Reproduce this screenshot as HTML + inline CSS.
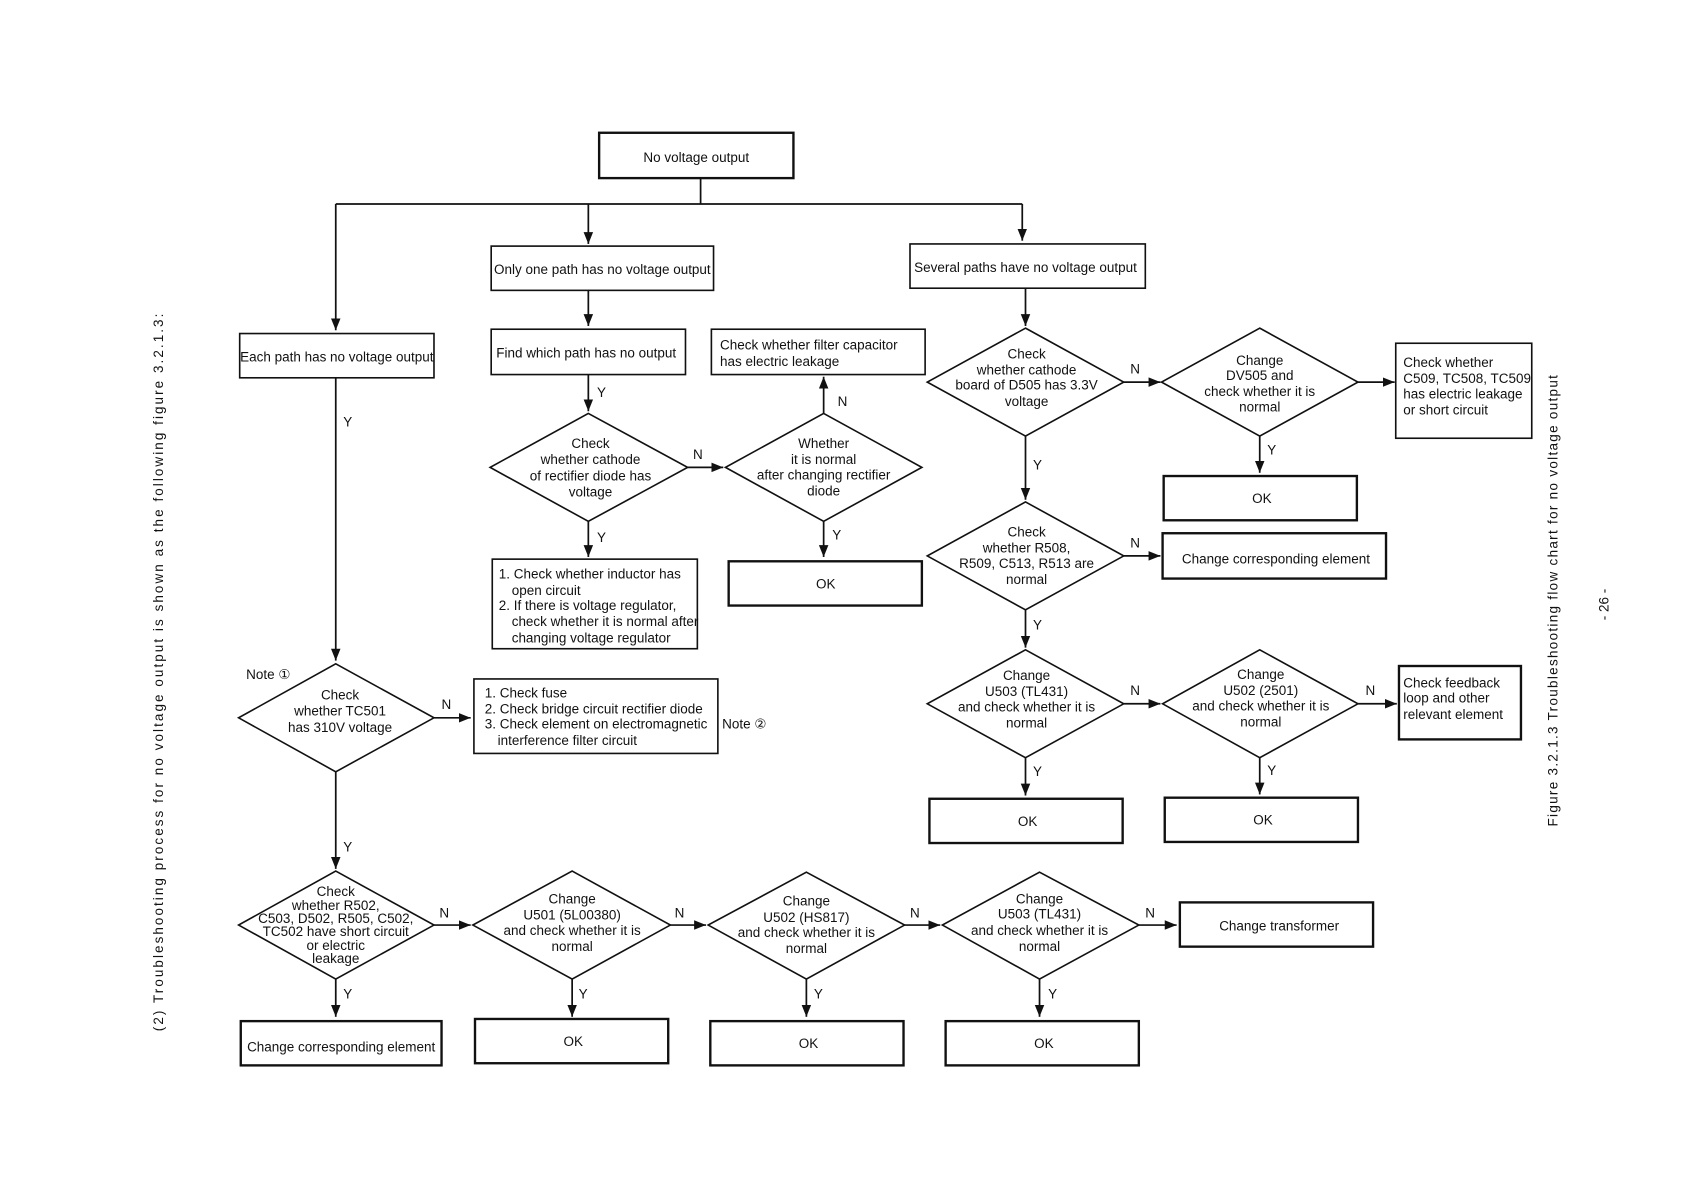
<!DOCTYPE html>
<html><head><meta charset="utf-8"><style>
html,body{margin:0;padding:0;background:#fff;}
svg{display:block}
text{font-family:"Liberation Sans Narrow","Liberation Sans",sans-serif;fill:#111;font-size:12.5px;}
.w{font-family:"Liberation Sans",sans-serif;}
.b{fill:#fff;stroke:#111;stroke-width:1.5}
.bb{fill:#fff;stroke:#111;stroke-width:2.2}
.l{stroke:#111;stroke-width:1.6;fill:none}
</style></head><body>
<svg width="1684" height="1192" viewBox="0 0 1560 1104.3" xmlns="http://www.w3.org/2000/svg">
<defs><marker id="A" viewBox="0 0 10 10" refX="10" refY="5" markerWidth="11" markerHeight="11" orient="auto" markerUnits="userSpaceOnUse"><path d="M0,1L10,5L0,9z" fill="#111"/></marker></defs>

<rect class="bb" x="555" y="123" width="180" height="42"/>
<text x="645" y="150" text-anchor="middle" class="w">No voltage output</text>
<path class="l" d="M649,165V189M311,189H947"/>
<path class="l" d="M311,189V306" marker-end="url(#A)"/>
<path class="l" d="M545,189V226" marker-end="url(#A)"/>
<path class="l" d="M947,189V223" marker-end="url(#A)"/>

<rect class="b" x="222" y="309" width="180" height="41"/>
<text x="312" y="335" text-anchor="middle">Each path has no voltage output</text>
<rect class="b" x="455" y="228" width="206" height="41"/>
<text x="558" y="254" text-anchor="middle">Only one path has no voltage output</text>
<rect class="b" x="843" y="226" width="218" height="41"/>
<text x="950" y="252" text-anchor="middle">Several paths have no voltage output</text>

<path class="l" d="M545,269V302" marker-end="url(#A)"/>
<rect class="b" x="455" y="305" width="180" height="42"/>
<text x="543" y="331" text-anchor="middle">Find which path has no output</text>
<path class="l" d="M545,347V381" marker-end="url(#A)"/>
<text x="553" y="368">Y</text>
<polygon class="b" points="545,383 637,433 545,483 454,433"/>
<text text-anchor="middle" class="w"><tspan x="547" y="415">Check</tspan><tspan x="547" y="430">whether cathode</tspan><tspan x="547" y="445">of rectifier diode has</tspan><tspan x="547" y="460">voltage</tspan></text>
<path class="l" d="M637,433H670" marker-end="url(#A)"/>
<text x="642" y="425" class="w">N</text>
<polygon class="b" points="763,383 854,433 763,483 672,433"/>
<text text-anchor="middle" class="w"><tspan x="763" y="415">Whether</tspan><tspan x="763" y="430">it is normal</tspan><tspan x="763" y="444">after changing rectifier</tspan><tspan x="763" y="459">diode</tspan></text>
<path class="l" d="M763,383V349" marker-end="url(#A)"/>
<text x="776" y="376" class="w">N</text>
<rect class="b" x="659" y="305" width="198" height="42"/>
<text class="w"><tspan x="667" y="324">Check whether filter capacitor</tspan><tspan x="667" y="339">has electric leakage</tspan></text>
<path class="l" d="M545,483V516" marker-end="url(#A)"/>
<text x="553" y="502">Y</text>
<rect class="b" x="456" y="518" width="190" height="83"/>
<text><tspan x="462" y="536">1. Check whether inductor has</tspan><tspan x="474" y="551">open circuit</tspan><tspan x="462" y="565">2. If there is voltage regulator,</tspan><tspan x="474" y="580">check whether it is normal after</tspan><tspan x="474" y="595">changing voltage regulator</tspan></text>
<path class="l" d="M763,483V516" marker-end="url(#A)"/>
<text x="771" y="500">Y</text>
<rect class="bb" x="675" y="520" width="179" height="41"/>
<text x="765" y="545" text-anchor="middle" class="w">OK</text>

<path class="l" d="M311,350V612" marker-end="url(#A)"/>
<text x="318" y="395">Y</text>
<text x="228" y="629" class="w">Note ①</text>
<polygon class="b" points="311,615 402,665 311,715 221,665"/>
<text text-anchor="middle" class="w" font-size="13.5"><tspan x="315" y="648">Check</tspan><tspan x="315" y="663">whether TC501</tspan><tspan x="315" y="678">has 310V voltage</tspan></text>
<path class="l" d="M402,665H436" marker-end="url(#A)"/>
<text x="409" y="657" class="w">N</text>
<rect class="b" x="439" y="629" width="226" height="69"/>
<text font-size="12"><tspan x="449" y="646">1. Check fuse</tspan><tspan x="449" y="661">2. Check bridge circuit rectifier diode</tspan><tspan x="449" y="675">3. Check element on electromagnetic</tspan><tspan x="461" y="690">interference filter circuit</tspan></text>
<text x="669" y="675" class="w">Note ②</text>
<path class="l" d="M311,715V805" marker-end="url(#A)"/>
<text x="318" y="789">Y</text>

<polygon class="b" points="311,807 402,857 311,907 221,857"/>
<text text-anchor="middle" class="w" font-size="11"><tspan x="311" y="830">Check</tspan><tspan x="311" y="843">whether R502,</tspan><tspan x="311" y="855">C503, D502, R505, C502,</tspan><tspan x="311" y="867">TC502 have short circuit</tspan><tspan x="311" y="880">or electric</tspan><tspan x="311" y="892">leakage</tspan></text>
<path class="l" d="M402,857H436" marker-end="url(#A)"/>
<text x="407" y="850" class="w">N</text>
<polygon class="b" points="530,807 621,857 530,907 438,857"/>
<text text-anchor="middle" class="w"><tspan x="530" y="837">Change</tspan><tspan x="530" y="852">U501 (5L00380)</tspan><tspan x="530" y="866">and check whether it is</tspan><tspan x="530" y="881">normal</tspan></text>
<path class="l" d="M621,857H654" marker-end="url(#A)"/>
<text x="625" y="850" class="w">N</text>
<polygon class="b" points="747,808 838,857 747,907 656,857"/>
<text text-anchor="middle" class="w"><tspan x="747" y="839">Change</tspan><tspan x="747" y="854">U502 (HS817)</tspan><tspan x="747" y="868">and check whether it is</tspan><tspan x="747" y="883">normal</tspan></text>
<path class="l" d="M838,857H871" marker-end="url(#A)"/>
<text x="843" y="850" class="w">N</text>
<polygon class="b" points="963,808 1055,857 963,907 873,857"/>
<text text-anchor="middle" class="w"><tspan x="963" y="837">Change</tspan><tspan x="963" y="851">U503 (TL431)</tspan><tspan x="963" y="866">and check whether it is</tspan><tspan x="963" y="881">normal</tspan></text>
<path class="l" d="M1055,857H1090" marker-end="url(#A)"/>
<text x="1061" y="850" class="w">N</text>
<rect class="bb" x="1093" y="836" width="179" height="41"/>
<text x="1185" y="862" text-anchor="middle" class="w">Change transformer</text>

<path class="l" d="M311,907V942" marker-end="url(#A)"/><text x="318" y="925">Y</text>
<path class="l" d="M530,907V942" marker-end="url(#A)"/><text x="536" y="925">Y</text>
<path class="l" d="M747,907V942" marker-end="url(#A)"/><text x="754" y="925">Y</text>
<path class="l" d="M963,907V942" marker-end="url(#A)"/><text x="971" y="925">Y</text>
<rect class="bb" x="223" y="946" width="186" height="41"/>
<text x="316" y="974" text-anchor="middle">Change corresponding element</text>
<rect class="bb" x="440" y="944" width="179" height="41"/><text x="531" y="969" text-anchor="middle" class="w">OK</text>
<rect class="bb" x="658" y="946" width="179" height="41"/><text x="749" y="971" text-anchor="middle" class="w">OK</text>
<rect class="bb" x="876" y="946" width="179" height="41"/><text x="967" y="971" text-anchor="middle" class="w">OK</text>

<path class="l" d="M950,267V302" marker-end="url(#A)"/>
<polygon class="b" points="950,304 1041,354 950,404 859,354"/>
<text text-anchor="middle" class="w"><tspan x="951" y="332">Check</tspan><tspan x="951" y="347">whether cathode</tspan><tspan x="951" y="361">board of D505 has 3.3V</tspan><tspan x="951" y="376">voltage</tspan></text>
<path class="l" d="M1041,354H1075" marker-end="url(#A)"/>
<text x="1047" y="346" class="w">N</text>
<polygon class="b" points="1167,304 1258,354 1167,404 1076,354"/>
<text text-anchor="middle" class="w"><tspan x="1167" y="338">Change</tspan><tspan x="1167" y="352">DV505 and</tspan><tspan x="1167" y="367">check whether it is</tspan><tspan x="1167" y="381">normal</tspan></text>
<path class="l" d="M1258,354H1292" marker-end="url(#A)"/>
<rect class="b" x="1293" y="318" width="126" height="88"/>
<text><tspan x="1300" y="340">Check whether</tspan><tspan x="1300" y="355">C509, TC508, TC509</tspan><tspan x="1300" y="369">has electric leakage</tspan><tspan x="1300" y="384">or short circuit</tspan></text>
<path class="l" d="M1167,404V438" marker-end="url(#A)"/><text x="1174" y="421">Y</text>
<rect class="bb" x="1078" y="441" width="179" height="41"/><text x="1169" y="466" text-anchor="middle" class="w">OK</text>

<path class="l" d="M950,404V463" marker-end="url(#A)"/><text x="957" y="435">Y</text>
<polygon class="b" points="950,465 1041,515 950,565 859,515"/>
<text text-anchor="middle" class="w"><tspan x="951" y="497">Check</tspan><tspan x="951" y="512">whether  R508,</tspan><tspan x="951" y="526">R509, C513, R513 are</tspan><tspan x="951" y="541">normal</tspan></text>
<path class="l" d="M1041,515H1075" marker-end="url(#A)"/>
<text x="1047" y="507" class="w">N</text>
<rect class="bb" x="1077" y="494" width="207" height="42"/>
<text x="1182" y="522" text-anchor="middle" class="w">Change corresponding element</text>

<path class="l" d="M950,565V600" marker-end="url(#A)"/><text x="957" y="583">Y</text>
<polygon class="b" points="950,602 1041,652 950,702 859,652"/>
<text text-anchor="middle" class="w"><tspan x="951" y="630">Change</tspan><tspan x="951" y="645">U503 (TL431)</tspan><tspan x="951" y="659">and check whether it is</tspan><tspan x="951" y="674">normal</tspan></text>
<path class="l" d="M1041,652H1075" marker-end="url(#A)"/>
<text x="1047" y="644" class="w">N</text>
<polygon class="b" points="1167,602 1258,652 1167,702 1077,652"/>
<text text-anchor="middle" class="w"><tspan x="1168" y="629">Change</tspan><tspan x="1168" y="644">U502 (2501)</tspan><tspan x="1168" y="658">and check whether it is</tspan><tspan x="1168" y="673">normal</tspan></text>
<path class="l" d="M1258,652H1294" marker-end="url(#A)"/>
<text x="1265" y="644" class="w">N</text>
<rect class="bb" x="1296" y="617" width="113" height="68"/>
<text class="w"><tspan x="1300" y="637">Check feedback</tspan><tspan x="1300" y="651">loop and other</tspan><tspan x="1300" y="666">relevant element</tspan></text>
<path class="l" d="M950,702V737" marker-end="url(#A)"/><text x="957" y="719">Y</text>
<path class="l" d="M1167,702V736" marker-end="url(#A)"/><text x="1174" y="718">Y</text>
<rect class="bb" x="861" y="740" width="179" height="41"/><text x="952" y="765" text-anchor="middle" class="w">OK</text>
<rect class="bb" x="1079" y="739" width="179" height="41"/><text x="1170" y="764" text-anchor="middle" class="w">OK</text>

<text class="w" font-size="17" letter-spacing="1.9" text-anchor="middle" transform="translate(151,622) rotate(-90)">(2) Troubleshooting process for no voltage output is shown as the following figure 3.2.1.3:</text>
<text class="w" font-size="15" letter-spacing="1.2" text-anchor="middle" transform="translate(1443,556) rotate(-90)">Figure 3.2.1.3 Troubleshooting flow chart for no voltage output</text>
<text class="w" font-size="12" text-anchor="middle" transform="translate(1490,560) rotate(-90)">- 26 -</text>
</svg>
</body></html>
